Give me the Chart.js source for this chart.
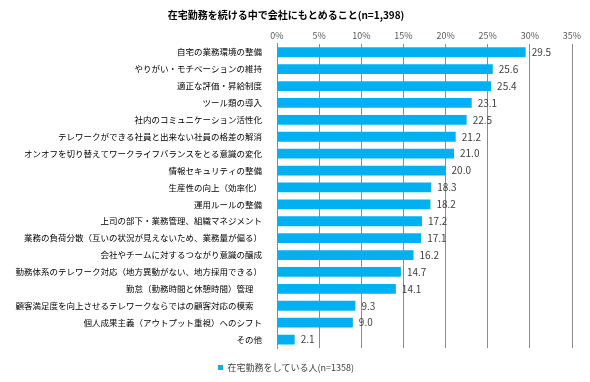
<!DOCTYPE html>
<html>
<head>
<meta charset="utf-8">
<script src="https://cdn.jsdelivr.net/npm/chart.js@4"></script>
<style>
html,body{margin:0;padding:0;background:#fff;}
#wrap{width:590px;height:382px;position:relative;}
</style>
</head>
<body>
<div id="wrap"><canvas id="c"></canvas></div>
<script>
const titleText = "在宅勤務を続ける中で会社にもとめること(n=1,398)";
const seriesName = "在宅勤務をしている人(n=1358)";
const categories = [
  "自宅の業務環境の整備",
  "やりがい・モチベーションの維持",
  "適正な評価・昇給制度",
  "ツール類の導入",
  "社内のコミュニケーション活性化",
  "テレワークができる社員と出来ない社員の格差の解消",
  "オンオフを切り替えてワークライフバランスをとる意識の変化",
  "情報セキュリティの整備",
  "生産性の向上（効率化）",
  "運用ルールの整備",
  "上司の部下・業務管理、組織マネジメント",
  "業務の負荷分散（互いの状況が見えないため、業務量が偏る）",
  "会社やチームに対するつながり意識の醸成",
  "勤務体系のテレワーク対応（地方異動がない、地方採用できる）",
  "勤怠（勤務時間と休憩時間）管理　",
  "顧客満足度を向上させるテレワークならではの顧客対応の模索　",
  "個人成果主義（アウトプット重視）へのシフト",
  "その他"
];
const values = [29.5, 25.6, 25.4, 23.1, 22.5, 21.2, 21.0, 20.0, 18.3, 18.2, 17.2, 17.1, 16.2, 14.7, 14.1, 9.3, 9.0, 2.1];
const tickValues = [0, 5, 10, 15, 20, 25, 30, 35];

const FONT = "'Noto Sans CJK JP', 'Noto Sans', sans-serif";

const valueLabels = {
  id: 'valueLabels',
  afterDatasetsDraw(chart) {
    const ctx = chart.ctx;
    const meta = chart.getDatasetMeta(0);
    ctx.save();
    ctx.font = "10px " + FONT;
    ctx.fillStyle = "#404040";
    ctx.textAlign = "left";
    ctx.textBaseline = "middle";
    meta.data.forEach((bar, i) => {
      ctx.fillText(values[i].toFixed(1), bar.x + 6, bar.y);
    });
    ctx.restore();
  }
};

new Chart(document.getElementById('c'), {
  type: 'bar',
  data: {
    labels: categories,
    datasets: [{
      label: seriesName,
      data: values,
      backgroundColor: '#00B0F0',
      borderWidth: 0,
      categoryPercentage: 1.0,
      barPercentage: 0.58
    }]
  },
  options: {
    indexAxis: 'y',
    responsive: true,
    maintainAspectRatio: false,
    animation: false,
    layout: { padding: { left: 0, right: 18, top: 6, bottom: 0 } },
    plugins: {
      title: {
        display: true,
        text: titleText,
        color: '#000',
        font: { family: FONT, size: 10, weight: 'bold' },
        padding: { top: 3, bottom: 6 }
      },
      legend: {
        display: true,
        position: 'bottom',
        labels: {
          boxWidth: 5,
          boxHeight: 5,
          color: '#404040',
          font: { family: FONT, size: 9 },
          padding: 15
        }
      },
      tooltip: { enabled: false }
    },
    scales: {
      x: {
        position: 'top',
        min: 0,
        max: 35,
        afterBuildTicks(axis) { axis.ticks = tickValues.map(v => ({ value: v })); },
        ticks: {
          callback: v => v + '%',
          color: '#595959',
          font: { family: FONT, size: 9 },
          padding: 3
        },
        grid: { color: '#8c8c8c', drawTicks: false, lineWidth: 1 },
        border: { display: false }
      },
      y: {
        afterFit(axis) { axis.width = 277; },
        ticks: {
          color: '#000',
          font: { family: FONT, size: 8.5 },
          padding: 7,
          autoSkip: false
        },
        grid: { display: false },
        border: { display: true, color: '#8c8c8c', width: 1 }
      }
    }
  },
  plugins: [valueLabels]
});
</script>
</body>
</html>
